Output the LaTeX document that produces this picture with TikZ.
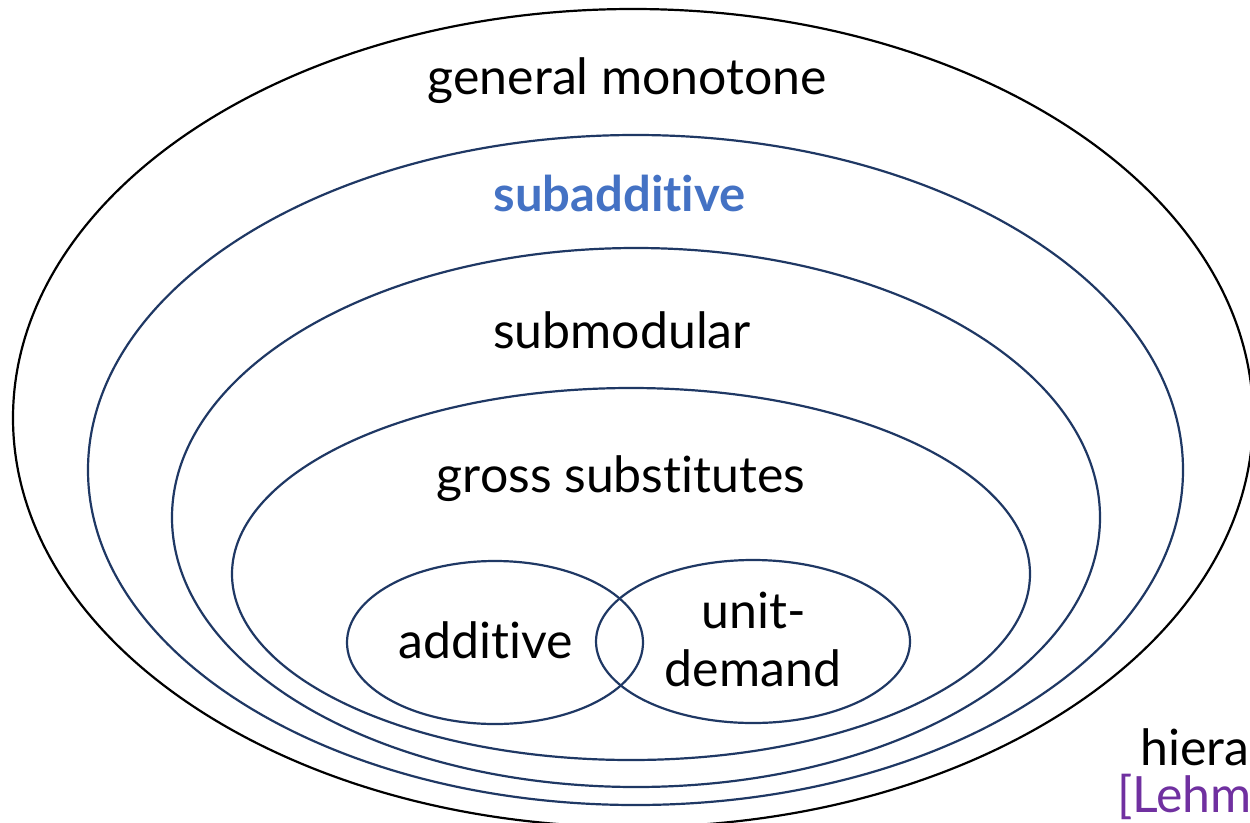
\documentclass[tikz,border=0pt]{standalone}
\usepackage{fontspec}
\setmainfont{Lato}[Ligatures={NoCommon,NoContextual,NoRare}]
\definecolor{navy}{HTML}{1F3864}
\definecolor{subblue}{HTML}{4472C4}
\definecolor{refpurple}{HTML}{7030A0}
\begin{document}
\begin{tikzpicture}[x=1pt,y=-1pt,
  ring/.style={draw=navy,line width=2.2pt},
  outerring/.style={draw=black,line width=2.2pt},
  lbl/.style={anchor=base,inner sep=0pt,font=\fontsize{50}{58}\selectfont},
  lblb/.style={lbl,font=\fontsize{49}{58}\selectfont\bfseries,text=subblue}]
\useasboundingbox (0,0) rectangle (1250,822);
\clip (0,0) rectangle (1250,822);
\fill[white] (0,0) rectangle (1250,822);
% ellipses
\draw[outerring] (633,418) ellipse [x radius=620pt, y radius=409pt];
\draw[ring] (635.5,470) ellipse [x radius=547.5pt, y radius=335pt];
\draw[ring] (636,517.5) ellipse [x radius=464pt, y radius=269.5pt];
\draw[ring] (631,574) ellipse [x radius=399pt, y radius=186pt];
\draw[ring] (495,642.5) ellipse [x radius=148pt, y radius=81.5pt];
\draw[ring] (753,641.5) ellipse [x radius=157pt, y radius=81.5pt];
% labels
\node[lbl] (gm) at (627.5,94) {general monotone};
\node[lblb] (sa) at (619.5,211) {subadditive};
\node[lbl] (sm) at (622,348) {submodular};
\node[lbl] (gs) at (621,492) {gross substitutes};
\node[lbl] (ad) at (486,658) {additive};
\node[lbl] (ud1) at (753.5,628) {unit-};
\node[lbl] (ud2) at (753,686) {demand};
\node[lbl,anchor=base west] (hi) at (1140,765) {hierarchy};
\node[lbl,anchor=base west,text=refpurple] (le) at (1117,812) {[Lehmann};
\end{tikzpicture}
\end{document}
